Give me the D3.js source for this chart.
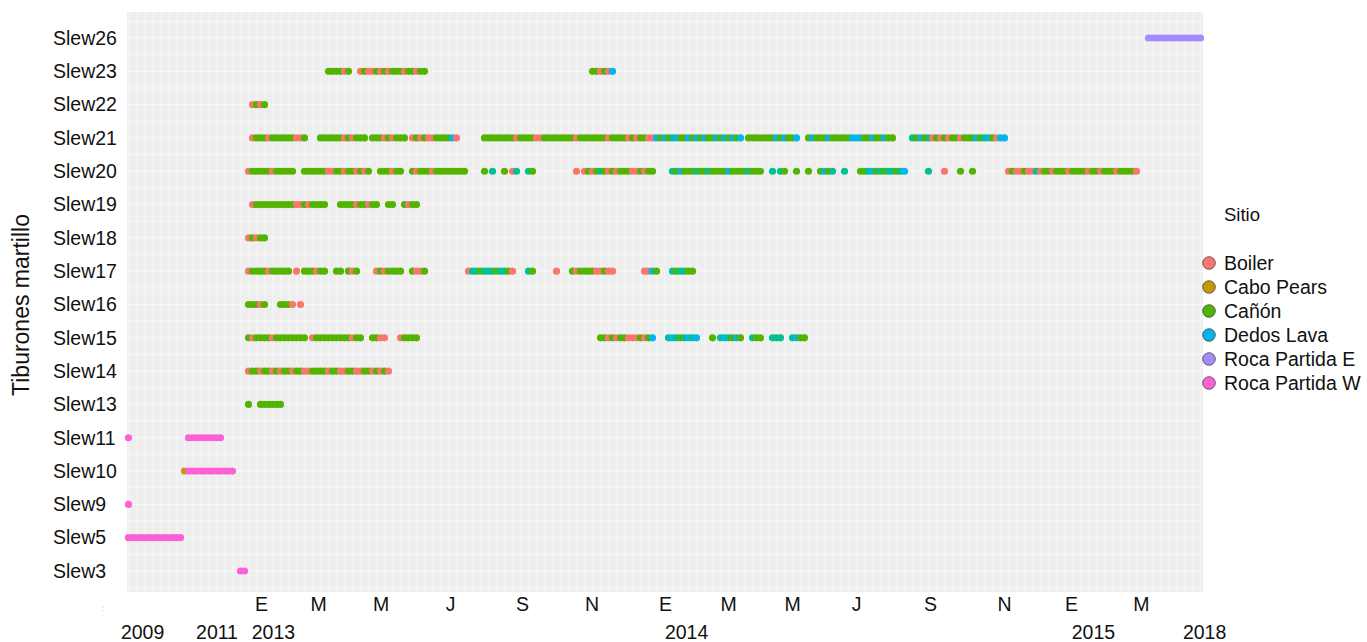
<!DOCTYPE html>
<html><head><meta charset="utf-8">
<script src="https://cdn.jsdelivr.net/npm/d3@7/dist/d3.min.js"></script>
<style>
body{margin:0;background:#fff;}
text{font-family:"Liberation Sans",Arial,Helvetica,sans-serif;}
</style>
</head><body>
<svg id="chart" width="1367" height="642"></svg>
<script>
// ---------- data ----------
const sharks = ["Slew26","Slew23","Slew22","Slew21","Slew20","Slew19","Slew18","Slew17","Slew16","Slew15","Slew14","Slew13","Slew11","Slew10","Slew9","Slew5","Slew3"];
const siteCodes  = ["B","P","C","T","D","E","W"];
const siteNames  = ["Boiler","Cabo Pears","Cañón","Otro","Dedos Lava","Roca Partida E","Roca Partida W"];
const siteColors = ["#F8766D","#C49A00","#53B400","#00C094","#00B6EB","#A58AFF","#FB61D7"];
const legendSites = ["Boiler","Cabo Pears","Cañón","Dedos Lava","Roca Partida E","Roca Partida W"];
const legendTitle = "Sitio";
const yTitle = "Tiburones martillo";
// x axis is an index of detection periods (non-linear in calendar time)
const monthTickBins   = [33.1,47.4,63,80.4,98.4,115.75,134.1,149.9,165.9,181.9,200.4,218.9,235.6,253.1];
const monthTickLabels = ["E","M","M","J","S","N","E","M","M","J","S","N","E","M"];
const yearTickBins    = [3.4,22,36.1,139.4,241.1,268.9];
const yearTickLabels  = ["2009","2011","2013","2014","2015","2018"];
// detections: [shark, first period index, one site code per consecutive period]
const detectionRuns = [
  ["Slew26",255,"EEEEEEEEEEEEEE"],
  ["Slew23",50,"CCCCBC"],["Slew23",58,"BCBBCBCBCCCBCCBCC"],["Slew23",116,"CCBCBD"],
  ["Slew22",31,"BCBC"],
  ["Slew21",31,"BCCCBCCCCCCBBC"],["Slew21",48,"CCCCCCBCBCCC"],["Slew21",61,"CCCBCBCCC"],["Slew21",71,"BCBCBBCCCCDB"],
  ["Slew21",89,"CCCCCCCCBCCCCBBCCCCCCCCBCCCCCCCBCCCCBCBCCBBDCDCTDCCDCDCDCCDCDCDCD"],
  ["Slew21",155,"CCCCCCCDCDCCD"],["Slew21",170,"CDCCCDCCCCCDDDCCDCCDCC"],["Slew21",196,"TCDCTBCBCBCCBCCCDCTDCBDD"],
  ["Slew20",30,"BCCCCCBCCCCC"],["Slew20",44,"CCCCCCBBCCBCCBCBC"],["Slew20",63,"CCCBCC"],["Slew20",71,"CBCCCBCCCCCCCC"],
  ["Slew20",89,"C"],["Slew20",91,"T"],["Slew20",94,"C"],["Slew20",96,"BT"],["Slew20",100,"TC"],["Slew20",112,"B"],
  ["Slew20",114,"BCBCTCBCBCCCBBCBCC"],["Slew20",136,"TCDCCCTCCTCCCCDCCCCTCCC"],["Slew20",161,"T"],["Slew20",163,"TC"],
  ["Slew20",167,"C"],["Slew20",170,"C"],["Slew20",173,"CDCT"],["Slew20",179,"T"],["Slew20",183,"CCTDCTCTTCTD"],
  ["Slew20",200,"T"],["Slew20",204,"B"],["Slew20",208,"C"],["Slew20",211,"C"],
  ["Slew20",220,"BCBBCBBTBCCBCCCBCCCCBCCBCCCBCCCCB"],
  ["Slew19",31,"BCCCCCCCCCCBBCBCCCC"],["Slew19",53,"CCCCBCCBCC"],["Slew19",65,"CC"],["Slew19",69,"CBCC"],
  ["Slew18",30,"BCBCC"],
  ["Slew17",30,"BCCCCBCCCCC"],["Slew17",42,"B"],["Slew17",44,"CCCBCC"],["Slew17",52,"CC"],["Slew17",55,"CBC"],
  ["Slew17",62,"BCBCCCC"],["Slew17",71,"CBBC"],["Slew17",85,"BTTCTTTCTTCB"],["Slew17",100,"TC"],["Slew17",107,"B"],
  ["Slew17",111,"CBCCCCBBCBB"],["Slew17",129,"BBDC"],["Slew17",136,"TCTTCC"],
  ["Slew16",30,"CCCBC"],["Slew16",38,"CCCB"],["Slew16",43,"B"],
  ["Slew15",30,"CBCCCCBCCCCCCCC"],["Slew15",46,"BCCCCCCCCCBCC"],["Slew15",61,"CCBB"],["Slew15",68,"BCCCC"],
  ["Slew15",118,"CCBCBCCBBBCBCD"],["Slew15",135,"TDTCTDTD"],["Slew15",146,"C"],["Slew15",148,"TDTCDC"],
  ["Slew15",156,"TCC"],["Slew15",161,"TTT"],["Slew15",166,"TDCC"],
  ["Slew14",30,"BCCBCCBCBCCBCCBBCCCCBCCBBCCBBCCBCBCB"],
  ["Slew13",30,"C"],["Slew13",33,"CCCCCC"],
  ["Slew11",0,"W"],["Slew11",15,"WWWWWWWWW"],
  ["Slew10",14,"PWWWWWWWWWWWW"],
  ["Slew9",0,"W"],
  ["Slew5",0,"WWWWWWWWWWWWWW"],
  ["Slew3",28,"WW"]
];

// ---------- chart ----------
const svg = d3.select("#chart");
const panel = {left:127, right:1203, top:12, bottom:592};

const x = d3.scaleLinear().domain([0,268]).range([128.5,1200.5]);
const y = d3.scalePoint().domain(sharks).range([38,571]);
const color = d3.scaleOrdinal().domain(siteCodes).range(siteColors);
const colorByName = d3.scaleOrdinal().domain(siteNames).range(siteColors);

// panel background
svg.append("rect").attr("x",panel.left).attr("y",panel.top)
  .attr("width",panel.right-panel.left).attr("height",panel.bottom-panel.top)
  .attr("fill","#EEEEEE");

const grid = svg.append("g");
const vStep = 2;
const vLines = d3.range(x.invert(panel.left)+0.5, x.invert(panel.right), vStep);
grid.selectAll("line.v").data(vLines).join("line").attr("class","v")
  .attr("x1",d=>x(d)).attr("x2",d=>x(d)).attr("y1",panel.top).attr("y2",panel.bottom)
  .attr("stroke","#F7F7F7").attr("stroke-width",1);
const step = y.step();
const hLines = [];
sharks.forEach(s=>{hLines.push(y(s)); hLines.push(y(s)-step/2);});
hLines.push(y(sharks[sharks.length-1])+step/2);
grid.selectAll("line.h").data(hLines).join("line").attr("class","h")
  .attr("x1",panel.left).attr("x2",panel.right).attr("y1",d=>d).attr("y2",d=>d)
  .attr("stroke","#F8F8F8").attr("stroke-width",1);

// points
const points = detectionRuns.flatMap(([shark,start,codes]) =>
  codes.split("").map((c,i)=>({shark, idx:start+i, site:c})));
svg.append("g").selectAll("circle").data(points).join("circle")
  .attr("cx",d=>x(d.idx)).attr("cy",d=>y(d.shark)).attr("r",3.6)
  .attr("fill",d=>color(d.site));

// y axis (labels left-aligned)
const yAxis = svg.append("g").attr("transform",`translate(${panel.left},0)`)
  .call(d3.axisLeft(y).tickSize(0).tickPadding(74));
yAxis.select(".domain").remove();
yAxis.selectAll("text").attr("text-anchor","start").attr("font-size","19.5px").attr("fill","#111")
  .style("font-family","'Liberation Sans',Arial,sans-serif");

// x axis: months
const xMonths = svg.append("g").attr("transform",`translate(0,${panel.bottom})`)
  .call(d3.axisBottom(x).tickValues(monthTickBins).tickFormat((d,i)=>monthTickLabels[i]).tickSize(0));
xMonths.select(".domain").remove();
xMonths.selectAll("text").attr("dy",null).attr("y",18.5).attr("font-size","19.5px").attr("fill","#111")
  .style("font-family","'Liberation Sans',Arial,sans-serif");
// x axis: years
const xYears = svg.append("g").attr("transform",`translate(0,${panel.bottom})`)
  .call(d3.axisBottom(x).tickValues(yearTickBins).tickFormat((d,i)=>yearTickLabels[i]).tickSize(0));
xYears.select(".domain").remove();
xYears.selectAll("text").attr("dy",null).attr("y",47).attr("font-size","19.5px").attr("fill","#111")
  .style("font-family","'Liberation Sans',Arial,sans-serif");

// small stray mark left of the axis
svg.append("text").attr("x",103).attr("y",611).attr("font-size","7px").attr("fill","#aaa").attr("text-anchor","middle").text(":");

// y title
svg.append("text").attr("transform",`translate(29,${(panel.top+panel.bottom)/2+3}) rotate(-90)`)
  .attr("text-anchor","middle").attr("font-size","23px").attr("fill","#111").text(yTitle);

// legend
const leg = svg.append("g");
leg.append("text").attr("x",1224).attr("y",220.5).attr("font-size","18.5px").attr("fill","#111").text(legendTitle);
const li = leg.selectAll("g.item").data(legendSites).join("g").attr("class","item")
  .attr("transform",(d,i)=>`translate(0,${263+24*i})`);
li.append("circle").attr("cx",1209).attr("cy",0).attr("r",6.3)
  .attr("fill",d=>colorByName(d)).attr("stroke","#444").attr("stroke-width",0.8);
li.append("text").attr("x",1224).attr("y",7).attr("font-size","19.5px").attr("fill","#111").text(d=>d);
</script>
</body></html>
